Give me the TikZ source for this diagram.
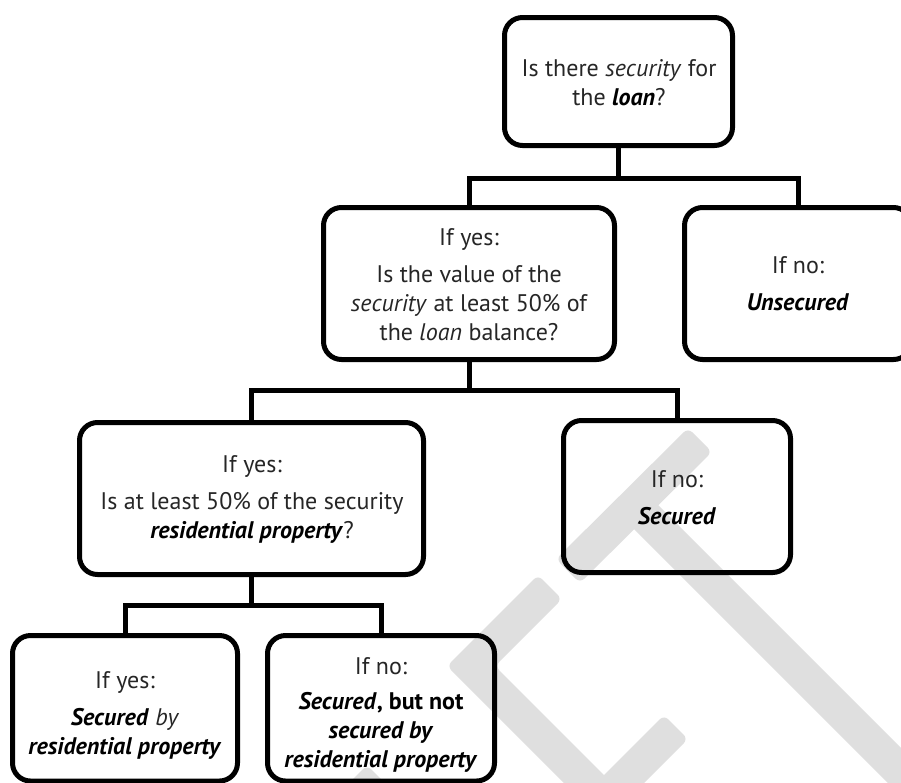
\documentclass[tikz,border=0pt]{standalone}
\usepackage{fontspec}
\setmainfont{PT Sans}
\begin{document}
\begin{tikzpicture}[x=1pt,y=-1pt,
  box/.style={draw=black, line width=5pt, rounded corners=18pt, inner sep=0pt},
  conn/.style={draw=black, line width=5pt},
  txt/.style={align=center, inner sep=0pt, text=black!85, font=\fontsize{24}{29}\selectfont},
  em/.style={},
  wm/.style={fill=gray!25, rounded corners=6pt}]
\newcommand{\bi}[1]{\textcolor{black}{\textbf{\textit{#1}}}}
\useasboundingbox (0,0) rectangle (901,782);
\clip (0,0) rectangle (901,782);
% watermark
\fill[wm] (556,559) -- (580,583) -- (712,452) -- (688,428) -- cycle;
\fill[wm] (646,493) -- (622,517) -- (948,843) -- (972,819) -- cycle;
\fill[wm] (447,666) -- (538,575) -- (562,599) -- (495,666) -- (623,794) -- (599,818) -- cycle;
\fill[wm] (664,715) -- (688,739) -- (572,855) -- (548,831) -- cycle;
\fill[wm] (367,765) -- (391,789) -- (291,889) -- (267,865) -- cycle;
% boxes
\node[box, minimum width=228pt, minimum height=128pt] (A) at (618.5,81.5) {};
\node[box, minimum width=291pt, minimum height=152pt] (B) at (469,283.5) {};
\node[box, minimum width=227pt, minimum height=152pt] (C) at (798,283.5) {};
\node[box, minimum width=344pt, minimum height=152pt] (D) at (251.5,498.5) {};
\node[box, minimum width=227pt, minimum height=152pt] (E) at (677,496.5) {};
\node[box, minimum width=225pt, minimum height=145.5pt] (F) at (125,708.25) {};
\node[box, minimum width=227pt, minimum height=145.5pt] (G) at (381,708.25) {};
% texts
\node[txt] (tA) at (619,83) {Is there \textit{security} for\\the \bi{loan}?};
\node[txt] (tB) at (469,285) {If yes:\\[8pt]Is the value of the\\\textit{security} at least 50\% of\\the \textit{loan} balance?};
\node[txt] (tC) at (798,284) {If no:\\[8pt]\bi{Unsecured}};
\node[txt] (tD) at (252,499.5) {If yes:\\[8pt]Is at least 50\% of the security\\\bi{residential property}?};
\node[txt] (tE) at (677,497.5) {If no:\\[8pt]\bi{Secured}};
\node[txt] (tF) at (125,715) {If yes:\\[8pt]\bi{Secured} \textit{by}\\\bi{residential property}};
\node[txt] (tG) at (381,714.5) {If no:\\[6pt]\bi{Secured}\textcolor{black}{\textbf{, but not}}\\\bi{secured by}\\\bi{residential property}};
% connectors
\coordinate (j1) at (618.5,178);
\coordinate (j2) at (469,390);
\coordinate (j3) at (251.5,605);
\draw[conn] (A.south) -- (j1);
\draw[conn] (B.north) |- (j1) -| (C.north);
\draw[conn] (B.south) -- (j2);
\draw[conn] (D.north) |- (j2) -| (E.north);
\draw[conn] (D.south) -- (j3);
\draw[conn] (F.north) |- (j3) -| (G.north);
\end{tikzpicture}
\end{document}
